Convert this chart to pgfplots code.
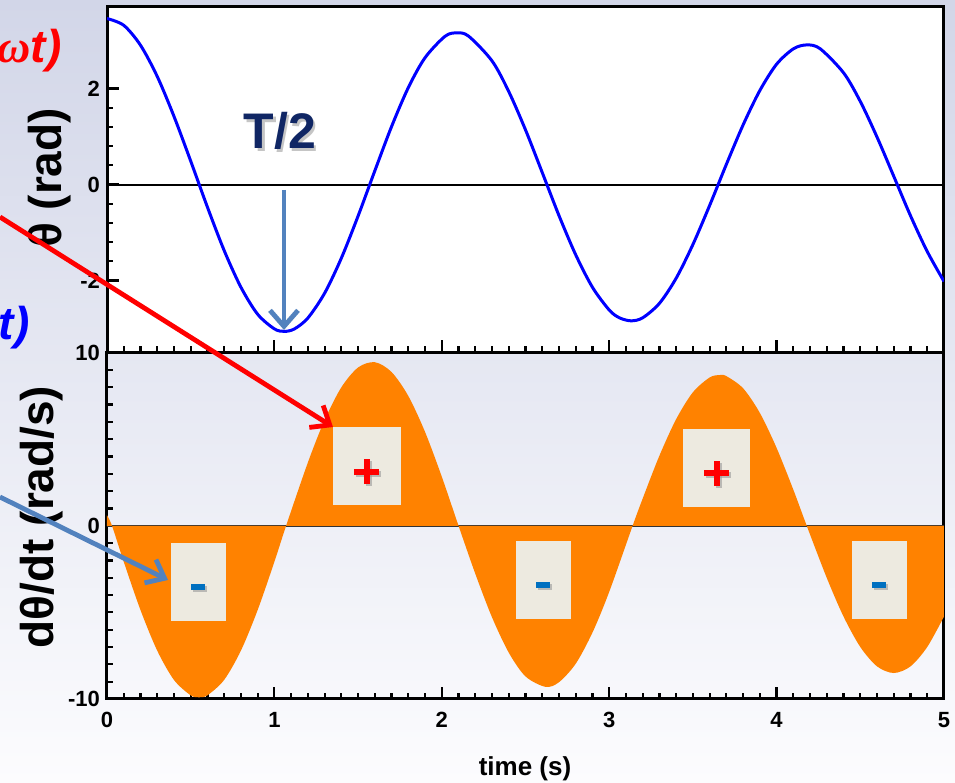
\documentclass[border=0pt]{standalone}
\usepackage{pgfplots}
\pgfplotsset{compat=1.18}
\usepackage{fontspec}
\setmainfont{Liberation Sans}
\newfontfamily\serifit{Liberation Serif}
\usetikzlibrary{arrows.meta}
\definecolor{bgtop}{RGB}{210,214,232}
\definecolor{bgbot}{RGB}{252,252,254}
\definecolor{orng}{RGB}{255,130,0}
\definecolor{boxc}{RGB}{237,234,224}
\definecolor{steel}{RGB}{82,130,190}
\definecolor{navy}{RGB}{16,38,100}
\definecolor{minusblue}{RGB}{0,112,192}
\begin{document}
\begin{tikzpicture}
\useasboundingbox (0,0) rectangle (477.5pt,391.5pt);
\clip (0,0) rectangle (477.5pt,391.5pt);
\shade[top color=bgtop, bottom color=bgbot] (0,0) rectangle (477.5pt,391.5pt);
\pgfplotsset{
  common/.style={scale only axis, width=418.5pt, xmin=0, xmax=5,
    tick pos=left, tick align=inside,
    axis line style={line width=1.5pt},
    tick style={black, line width=1.1pt},
    major tick length=6pt, minor tick length=3.2pt,
    xtick={0,1,2,3,4,5}, minor x tick num=9,
    ticklabel style={font=\bfseries\fontsize{11}{13}\selectfont},
    /pgf/number format/assume math mode=true}
}
% top axis: theta
\begin{axis}[common, at={(53.5pt,215.25pt)}, anchor=south west, height=172.75pt,
  ymin=-3.5, ymax=3.7, ytick={-2,0,2}, minor y tick num=4,
  xticklabels={}, axis background/.style={fill=white}]
\addplot[black, line width=1pt] coordinates {(0,0) (5,0)};
\addplot[blue, line width=1.5pt, smooth] coordinates {
(0,3.46) (0.1,3.318) (0.2,2.904) (0.3,2.254) (0.4,1.422) (0.5,0.49) (0.6,-0.471)
(0.7,-1.375) (0.8,-2.14) (0.9,-2.703) (1.0,-3.008) (1.06,-3.06) (1.12,-3.008)
(1.2,-2.781) (1.3,-2.264) (1.4,-1.533) (1.5,-0.655) (1.6,0.287) (1.7,1.209)
(1.8,2.02) (1.9,2.644) (2.02,3.091) (2.09,3.16) (2.16,3.093) (2.3,2.577) (2.4,1.938)
(2.5,1.14) (2.6,0.251) (2.7,-0.646) (2.8,-1.464) (2.9,-2.141) (3.0,-2.614)
(3.06,-2.775) (3.13,-2.84) (3.2,-2.777) (3.3,-2.476) (3.4,-1.952) (3.5,-1.25)
(3.6,-0.436) (3.7,0.421) (3.8,1.243) (3.9,1.96) (4.0,2.508) (4.1,2.828)
(4.18,2.91) (4.26,2.831) (4.4,2.329) (4.5,1.732) (4.6,0.989)
(4.7,0.172) (4.8,-0.65) (4.9,-1.396) (5.0,-2.018)};
\end{axis}
% bottom axis: dtheta/dt
\begin{axis}[common, at={(53.5pt,42pt)}, anchor=south west, height=173.25pt,
  ymin=-10, ymax=10, ytick={-10,0,10}, minor y tick num=9,
  xticklabel style={yshift=-3pt}]
\addplot[black!80, line width=0.8pt] coordinates {(0,0) (5,0)};
\addplot[draw=none, fill=orng, smooth] coordinates {
(0,0.6) (0.03,0) (0.1,-2.078) (0.2,-4.863) (0.3,-7.209) (0.4,-8.9) (0.5,-9.788)
(0.55,-9.9) (0.6,-9.787) (0.7,-8.896) (0.8,-7.207) (0.9,-4.863) (1.0,-2.078)
(1.07,0) (1.2,3.65) (1.3,6.099) (1.4,7.99) (1.5,9.136) (1.6,9.44)
(1.7,8.872) (1.8,7.489) (1.9,5.413) (2.0,2.831) (2.1,0) (2.2,-2.767) (2.3,-5.284)
(2.4,-7.322) (2.5,-8.696) (2.62,-9.3) (2.7,-9.03) (2.8,-7.964)
(2.9,-6.167) (3.0,-3.817) (3.14,0) (3.2,1.568) (3.3,4.043)
(3.4,6.152) (3.5,7.704) (3.6,8.558) (3.66,8.7) (3.7,8.636) (3.8,7.934)
(3.9,6.512) (4.0,4.494) (4.1,2.081) (4.18,0) (4.3,-3.014)
(4.4,-5.243) (4.5,-6.996) (4.6,-8.117) (4.7,-8.5) (4.8,-8.117) (4.9,-6.996)
(5.0,-5.242)} \closedcycle;
\end{axis}
% annotations in pixel coordinates
\begin{scope}[shift={(0pt,391.5pt)}, x=0.5pt, y=-0.5pt]
\node[rotate=90, font=\bfseries\fontsize{23}{26}\selectfont] at (50,178) {θ (rad)};
\node[rotate=90, font=\bfseries\fontsize{23}{26}\selectfont] at (42,517) {dθ/dt (rad/s)};
\node[font=\bfseries\fontsize{13}{15}\selectfont] at (525,769) {time (s)};
\node[anchor=base east, inner sep=0, text=red, font=\bfseries\itshape\fontsize{23}{26}\selectfont] at (62,63) {{\serifit ω}t)};
\node[anchor=base east, inner sep=0, text=blue, font=\bfseries\itshape\fontsize{23}{26}\selectfont] at (30,340) {t)};
\node[text=black!45, opacity=0.5, font=\bfseries\fontsize{25}{28}\selectfont] at (282.5,133.5) {T/2};
\node[text=navy, font=\bfseries\fontsize{25}{28}\selectfont] at (280,131) {T/2};
% boxes
\fill[boxc] (171,543) rectangle (226,621);
\fill[boxc] (333,427) rectangle (401,505);
\fill[boxc] (516,541) rectangle (571,619);
\fill[boxc] (683,429) rectangle (750,507);
\fill[boxc] (852,541) rectangle (907,619);
% plus signs with shadow
\foreach \cx/\cy in {366.7/471.7, 716.7/473.3} {
  \fill[black!40, opacity=0.6] (\cx-10.5,\cy-1) rectangle (\cx+14.5,\cy+5);
  \fill[black!40, opacity=0.6] (\cx-1,\cy-10.5) rectangle (\cx+5,\cy+14.5);
  \fill[red] (\cx-12.5,\cy-3) rectangle (\cx+12.5,\cy+3);
  \fill[red] (\cx-3,\cy-12.5) rectangle (\cx+3,\cy+12.5);
}
\foreach \cx/\cy in {198.3/586.7, 543.3/585, 879.3/585} {
  \fill[black!40, opacity=0.6] (\cx-5,\cy-1) rectangle (\cx+9,\cy+5);
  \fill[minusblue] (\cx-7,\cy-3) rectangle (\cx+7,\cy+3);
}
% arrows
\draw[steel, line width=2.4pt, -{Straight Barb[length=8pt,width=14pt]}] (284,190) -- (284,330);
\draw[red, line width=2.4pt, -{Straight Barb[length=8pt,width=13pt]}] (0,217) -- (333,427);
\draw[steel, line width=2.4pt, -{Straight Barb[length=8pt,width=13pt]}] (0,497) -- (168,580);
\end{scope}
\end{tikzpicture}
\end{document}
